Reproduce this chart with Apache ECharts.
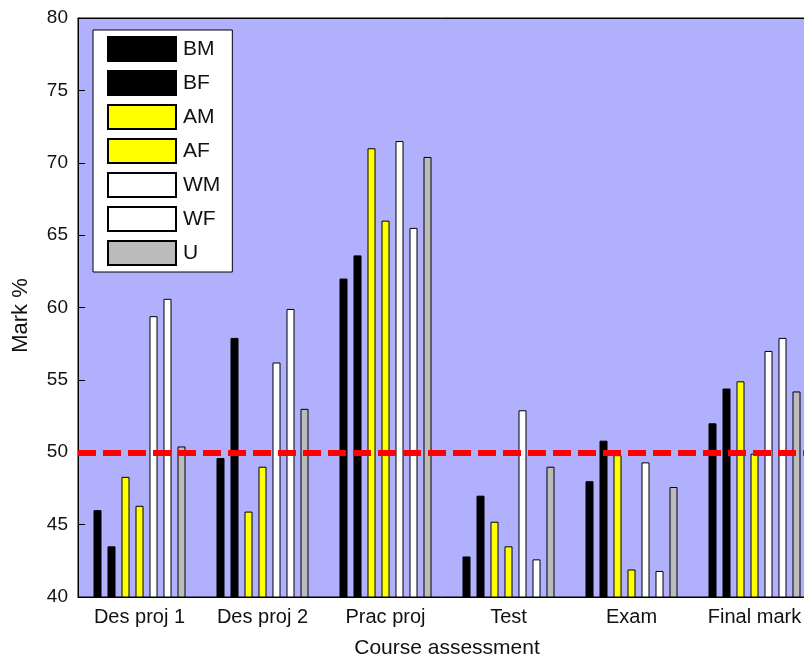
<!DOCTYPE html>
<html>
<head>
    <meta charset="utf-8">
    <title>Course assessment marks</title>
    <script src="https://cdn.jsdelivr.net/npm/echarts@6/dist/echarts.min.js"></script>
    <style type="text/css">
        * { margin: 0; padding: 0; }
        body { background: #ffffff; }
    </style>
</head>
<body>
<div id="main" style="width: 804px; height: 659px;"></div>
<script type="text/javascript">
    // data
    var categories = ['Des proj 1', 'Des proj 2', 'Prac proj', 'Test', 'Exam', 'Final mark'];
    var groupNames = ['BM', 'BF', 'AM', 'AF', 'WM', 'WF', 'U'];
    var groupColors = ['#000000', '#000000', '#ffff00', '#ffff00', '#ffffff', '#ffffff', '#bbbbbb'];
    var BM = [46.0, 49.6, 62.0, 42.8, 48.0, 52.0];
    var BF = [43.5, 57.9, 63.6, 47.0, 50.8, 54.4];
    var AM = [48.3, 45.9, 71.0, 45.2, 49.8, 54.9];
    var AF = [46.3, 49.0, 66.0, 43.5, 41.9, 49.9];
    var WM = [59.4, 56.2, 71.5, 52.9, 49.3, 57.0];
    var WF = [60.6, 59.9, 65.5, 42.6, 41.8, 57.9];
    var U  = [50.4, 53.0, 70.4, 49.0, 47.6, 54.2];
    var passMark = 50;
    var yTicks = { min: 40, max: 80, step: 5 };

    var seriesData = [BM, BF, AM, AF, WM, WF, U];
    var font = '"Liberation Sans", Arial, sans-serif';

    var myChart = echarts.init(document.getElementById('main'));

    var series = groupNames.map(function (name, i) {
        var s = {
            name: name,
            type: 'bar',
            data: seriesData[i],
            barWidth: 8,
            barGap: '75%',
            itemStyle: {
                color: groupColors[i],
                borderColor: '#000000',
                borderWidth: 1
            },
            emphasis: { disabled: true }
        };
        if (i === 0) {
            // red dashed pass line
            s.markLine = {
                silent: true,
                symbol: 'none',
                label: { show: false },
                lineStyle: { color: '#ff0000', width: 6, type: [18, 7] },
                data: [{ yAxis: passMark }]
            };
        }
        return s;
    });

    var option = {
        animation: false,
        textStyle: { fontFamily: font },
        grid: {
            left: 78,
            top: 18,
            right: -12,
            bottom: 62,
            outerBoundsMode: 'none',
            show: true,
            backgroundColor: '#b0b0fc',
            borderColor: '#000000',
            borderWidth: 1
        },
        legend: {
            orient: 'vertical',
            left: 93,
            top: 30,
            padding: [6, 12, 6, 14],
            itemWidth: 68,
            itemHeight: 24,
            itemGap: 8,
            icon: 'rect',
            backgroundColor: '#ffffff',
            borderColor: '#000000',
            borderWidth: 1,
            borderRadius: 0,
            selectedMode: false,
            textStyle: { fontFamily: font, fontSize: 21, color: '#111111', padding: [0, 0, 0, 2] },
            data: groupNames
        },
        xAxis: [{
            type: 'category',
            data: categories,
            name: 'Course assessment',
            nameLocation: 'middle',
            nameGap: 41,
            nameTextStyle: { fontFamily: font, fontSize: 21, color: '#111111' },
            axisLine: { lineStyle: { color: '#000000' } },
            axisTick: { inside: true, alignWithLabel: true, length: 7, lineStyle: { color: '#000000' } },
            axisLabel: { interval: 0, hideOverlap: false, fontFamily: font, fontSize: 20, color: '#111111', margin: 10 }
        }, {
            type: 'category',
            data: categories,
            position: 'top',
            axisLine: { lineStyle: { color: '#000000' } },
            axisTick: { inside: true, alignWithLabel: true, length: 7, lineStyle: { color: '#000000' } },
            axisLabel: { show: false }
        }],
        yAxis: {
            type: 'value',
            min: yTicks.min,
            max: yTicks.max,
            interval: yTicks.step,
            name: 'Mark %',
            nameLocation: 'middle',
            nameGap: 46,
            nameRotate: 90,
            nameTextStyle: { fontFamily: font, fontSize: 22, color: '#111111', padding: [0, 16, 0, 0] },
            axisLine: { show: true, lineStyle: { color: '#000000' } },
            axisTick: { show: true, inside: true, length: 7, lineStyle: { color: '#000000' } },
            axisLabel: { fontFamily: font, fontSize: 19, color: '#111111', margin: 10 },
            splitLine: { show: false }
        },
        series: series
    };

    myChart.setOption(option);
</script>
</body>
</html>
